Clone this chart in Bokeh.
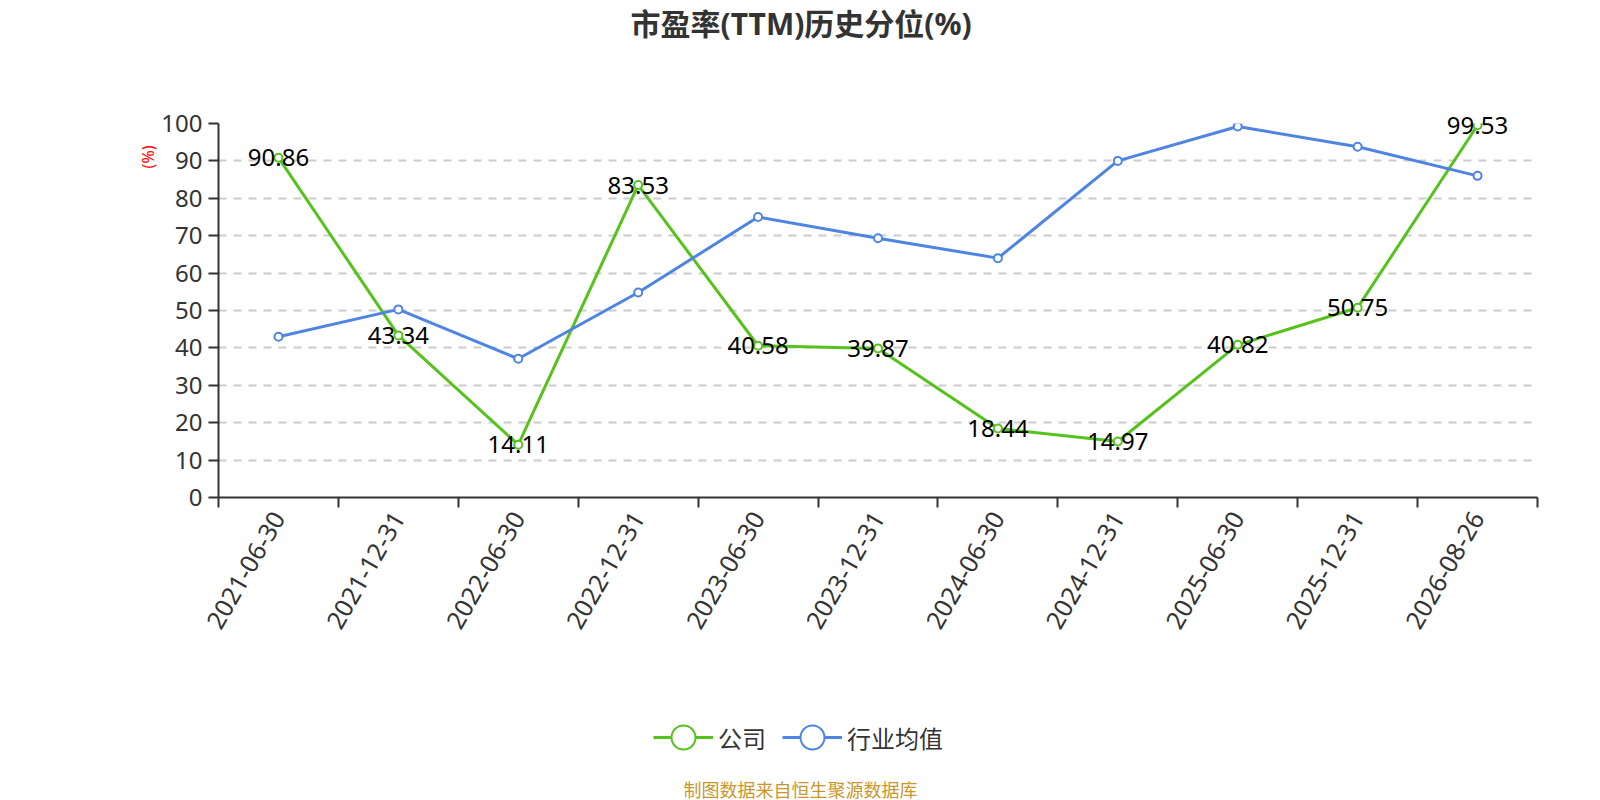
import math
from bokeh.plotting import figure
from bokeh.layouts import column
from bokeh.models import (Range1d, FixedTicker, Legend, LegendItem, Title, Label,
                          ColumnDataSource, LinearAxis)
from bokeh.core.properties import value
from bokeh.embed import file_html
from bokeh.resources import INLINE

# ---- data ----
dates = ["2021-06-30", "2021-12-31", "2022-06-30", "2022-12-31", "2023-06-30",
         "2023-12-31", "2024-06-30", "2024-12-31", "2025-06-30", "2025-12-31",
         "2026-08-26"]
company = [90.86, 43.34, 14.11, 83.53, 40.58, 39.87, 18.44, 14.97, 40.82, 50.75, 99.53]
industry = [43.0, 50.3, 37.1, 54.8, 75.0, 69.3, 64.0, 90.0, 99.2, 93.8, 86.0]
y_ticks = list(range(0, 101, 10))
series_names = ["公司", "行业均值"]
title_text = "市盈率(TTM)历史分位(%)"
footer_text = "制图数据来自恒生聚源数据库"
y_name = "(%)"

GREEN = "#56c21c"
BLUE = "#4e84e2"
DARK = "#333333"

W = 1600
H_MAIN = 657
H_FOOT = 143
LEFT, RIGHT = 218, 63

n = len(dates)
centers = [i + 0.5 for i in range(n)]
src = ColumnDataSource(dict(x=centers, company=company, industry=industry,
                            label=[f"{v:.2f}" for v in company]))

# ================= main chart =================
p = figure(width=W, height=H_MAIN, output_backend="svg", toolbar_location=None,
           x_range=Range1d(0, n), y_range=Range1d(0, 100),
           min_border_left=LEFT, min_border_right=RIGHT, min_border_top=121,
           min_border_bottom=160)
p.outline_line_color = None
p.background_fill_color = "white"
p.border_fill_color = "white"

xa = p.below[0]
ya = p.left[0]

p.title.text = title_text
p.title.align = "left"
p.title.offset = 412
p.title.standoff = 0
p.title.vertical_align = "bottom"
p.title.text_font = "Noto Sans, Noto Sans CJK SC"
p.title.text_font_size = "30px"
p.title.text_font_style = "bold"
p.title.text_color = DARK

xa.ticker = FixedTicker(ticks=centers, minor_ticks=list(range(n + 1)))
xa.major_label_overrides = {c: d for c, d in zip(centers, dates)}
xa.major_tick_line_color = None
xa.major_tick_out = 10
xa.major_tick_in = 0
xa.minor_tick_out = 10
xa.minor_tick_in = 0
xa.minor_tick_line_color = DARK
xa.minor_tick_line_width = 2
xa.axis_line_color = DARK
xa.axis_line_width = 2
xa.major_label_orientation = math.pi / 3
xa.major_label_text_font = "Noto Sans"
xa.major_label_text_font_size = "25px"
xa.major_label_text_color = DARK
xa.major_label_standoff = 6

ya.ticker = FixedTicker(ticks=y_ticks, minor_ticks=[])
ya.major_tick_out = 10
ya.major_tick_in = 0
ya.major_tick_line_color = DARK
ya.major_tick_line_width = 2
ya.axis_line_color = DARK
ya.axis_line_width = 2
ya.major_label_text_font = "Noto Sans"
ya.major_label_text_font_size = "24px"
ya.major_label_text_color = DARK
ya.major_label_standoff = 6

# invisible spacer between the title and the plot area
spacer = LinearAxis(ticker=FixedTicker(ticks=[n / 2], minor_ticks=[]),
                    major_tick_out=80, major_tick_in=0,
                    major_tick_line_color=None, minor_tick_line_color=None,
                    axis_line_color=None, major_label_standoff=0,
                    major_label_text_font_size="0px",
                    major_label_overrides={n / 2: ""})
p.add_layout(spacer, "above")

p.xgrid.visible = False
p.ygrid.ticker = FixedTicker(ticks=y_ticks)
p.ygrid.grid_line_color = "#cccccc"
p.ygrid.grid_line_width = 2
p.ygrid.grid_line_dash = "8 7"

p.add_layout(Title(text=y_name, align="right", offset=22, standoff=0,
                   vertical_align="bottom", text_font="Noto Sans",
                   text_font_size="16px", text_font_style="normal",
                   text_color="red"), "left")

p.line("x", "company", source=src, line_color=GREEN, line_width=3)
p.scatter("x", "company", source=src, size=8, fill_color="white",
          line_color=GREEN, line_width=2)
p.line("x", "industry", source=src, line_color=BLUE, line_width=3)
p.scatter("x", "industry", source=src, size=8, fill_color="white",
          line_color=BLUE, line_width=2)
p.text("x", "company", text="label", source=src, text_font=value("Noto Sans"),
       text_font_size="24px", text_align="center", text_baseline="middle",
       text_color="black", level="overlay")

# ================= legend + source note =================
# this strip's plot area is aligned with the chart's, so x is in page pixels
p2 = figure(width=W, height=H_FOOT, output_backend="svg", toolbar_location=None,
            x_range=Range1d(LEFT, W - RIGHT), y_range=Range1d(0, H_FOOT),
            x_axis_location=None, y_axis_location=None, title=None,
            min_border=0)
p2.outline_line_color = None
p2.grid.visible = False
p2.background_fill_color = "white"
p2.border_fill_color = "white"

# hidden copies of the two series, used only for the legend icons
kg_line = p2.line("x", "company", source=src, line_color=GREEN, line_width=3, visible=False)
kg_pts = p2.scatter("x", "company", source=src, fill_color="white", line_color=GREEN,
                    line_width=2, visible=False)
kb_line = p2.line("x", "industry", source=src, line_color=BLUE, line_width=3, visible=False)
kb_pts = p2.scatter("x", "industry", source=src, fill_color="white", line_color=BLUE,
                    line_width=2, visible=False)

legend = Legend(items=[LegendItem(label=series_names[0], renderers=[kg_line, kg_pts]),
                       LegendItem(label=series_names[1], renderers=[kb_line, kb_pts])],
                orientation="horizontal", location=(435, 33),
                glyph_width=60, glyph_height=60, label_standoff=5, spacing=16,
                padding=0, margin=0, border_line_color=None,
                background_fill_alpha=0, inactive_fill_alpha=0,
                label_text_font="Noto Sans CJK SC", label_text_font_size="24px",
                label_text_color=DARK)
p2.add_layout(legend, "center")

p2.add_layout(Label(x=W / 2, y=12, text=footer_text, text_align="center",
                    text_baseline="middle", text_font="Noto Sans CJK SC",
                    text_font_size="18px", text_color="#c9962b"))

layout = column(p, p2, spacing=0)
open("out.html", "w").write(file_html(layout, INLINE))
